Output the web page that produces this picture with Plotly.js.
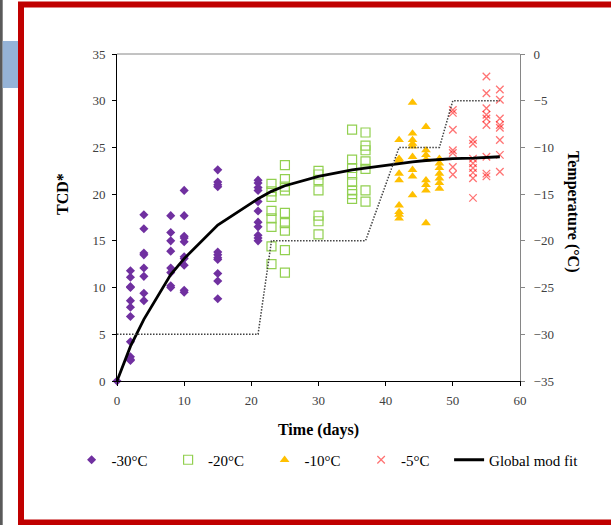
<!DOCTYPE html>
<html>
<head>
<meta charset="utf-8">
<script src="https://cdn.plot.ly/plotly-3.0.1.min.js"></script>
<style>html,body{margin:0;padding:0;background:#fff;}</style>
</head>
<body>
<div id="chart" style="width:611px;height:525px;"></div>
<script>
// Storage days at each temperature and the TCD* readings taken on each day
const days30 = [0, 2, 4, 8, 10, 15, 21];
const tcd30 = [
  [0],
  [11.8, 11.1, 10.1, 10.0, 8.6, 7.9, 6.9, 4.2, 2.6, 2.3, 2.2],
  [17.8, 16.3, 13.7, 13.5, 12.1, 11.2, 9.4, 8.6],
  [17.7, 15.9, 15.0, 13.9, 12.1, 11.6, 10.2, 10.0],
  [20.4, 17.7, 15.5, 15.3, 14.9, 13.3, 13.1, 12.4, 9.7, 9.5],
  [22.6, 21.3, 21.0, 20.8, 13.8, 13.5, 13.2, 13.0, 11.5, 10.7, 8.8],
  [21.5, 21.2, 20.7, 20.4, 19.2, 18.2, 17.0, 16.5, 15.6, 15.3, 15.0]
];

const days20 = [23, 25, 30, 35, 37];
const tcd20 = [
  [21.1, 20.3, 19.7, 18.2, 17.4, 16.5, 14.4, 12.5],
  [23.1, 21.6, 20.8, 20.4, 18.0, 16.9, 16.1, 14.0, 11.6],
  [22.5, 22.1, 21.5, 20.4, 17.7, 17.1, 15.7],
  [26.9, 23.7, 22.8, 22.1, 21.3, 20.4, 20.0, 19.5],
  [26.6, 25.2, 24.7, 23.5, 22.7, 20.4, 19.2]
];

const days10 = [42, 44, 46, 48];
const tcd10 = [
  [25.8, 23.8, 23.6, 22.2, 21.5, 18.8, 18.1, 17.8, 17.4],
  [29.8, 26.5, 25.8, 25.4, 25.1, 24.0, 22.6, 21.9, 19.9],
  [27.2, 24.7, 24.2, 23.7, 21.5, 21.0, 20.4, 16.9],
  [23.8, 23.3, 22.8, 22.2, 21.7, 21.2, 20.6]
];

const days5 = [50, 53, 55, 57];
const tcd5 = [
  [29.0, 28.7, 26.9, 24.7, 24.4, 22.9, 22.1],
  [25.8, 25.4, 23.8, 23.3, 22.8, 22.3, 21.7, 19.6],
  [32.6, 30.8, 29.2, 28.5, 28.1, 27.4, 24.0, 22.2, 21.9],
  [31.2, 30.1, 28.1, 27.4, 27.1, 25.8, 24.2, 22.4]
];

// Global model fit
const fitDays = [0, 2, 4, 8, 10, 15, 21, 23, 25, 30, 35, 37, 42, 44, 46, 48, 50, 53, 55, 57];
const fitTcd = [0, 3.7, 6.6, 11.4, 13.1, 16.7, 19.5, 20.3, 20.9, 21.9, 22.6, 22.8, 23.3, 23.45, 23.6, 23.7, 23.8, 23.85, 23.9, 24.0];

// Storage temperature profile (right axis)
const tempDays = [0, 21, 23, 37, 42, 48, 50, 57];
const tempC = [-30, -30, -20, -20, -10, -10, -5, -5];

const legendNames = ['-30°C', '-20°C', '-10°C', '-5°C', 'Global mod fit'];

function flatten(days, groups) {
  const x = [], y = [];
  days.forEach((d, i) => groups[i].forEach(v => { x.push(d); y.push(v); }));
  return {x, y};
}

const SERIF = 'Liberation Serif, Times New Roman, serif';
const W = 611, H = 525;
const M = {l: 117, r: 91, t: 54, b: 144};
const PW = W - M.l - M.r, PH = H - M.t - M.b;
const px2x = p => (p - M.l) / PW;
const py2y = p => (H - M.b - p) / PH;

const s30 = flatten(days30, tcd30);
const s20 = flatten(days20, tcd20);
const s10 = flatten(days10, tcd10);
const s5 = flatten(days5, tcd5);

const traces = [
  {x: s30.x, y: s30.y, name: legendNames[0], type: 'scatter', mode: 'markers', cliponaxis: false,
   marker: {symbol: 'diamond', size: 7, color: '#7030A0'}},
  {x: s20.x, y: s20.y, name: legendNames[1], type: 'scatter', mode: 'markers', cliponaxis: false,
   marker: {symbol: 'square-open', size: 9, color: '#92D050', line: {width: 1.2}}},
  {x: s10.x, y: s10.y, name: legendNames[2], type: 'scatter', mode: 'markers', cliponaxis: false,
   marker: {symbol: 'triangle-up', size: 8.5, color: '#FFC000'}},
  {x: s5.x, y: s5.y, name: legendNames[3], type: 'scatter', mode: 'markers', cliponaxis: false,
   legendwidth: 43,
   marker: {symbol: 'x-thin-open', size: 7.5, color: 'rgba(255,0,0,0.55)', line: {width: 1.3, color: 'rgba(255,0,0,0.55)'}}},
  {x: fitDays, y: fitTcd, name: legendNames[4], type: 'scatter', mode: 'lines', cliponaxis: false,
   legendwidth: 92,
   line: {color: '#000', width: 2.8}},
  {x: tempDays, y: tempC, name: 'Temperature', type: 'scatter', mode: 'lines', yaxis: 'y2',
   showlegend: false, line: {color: '#404040', width: 1.5, dash: '1.5px,1.5px'}}
];

const tickFont = {family: SERIF, size: 13, color: '#404040'};
const titleFont = {family: SERIF, size: 16, color: '#000', weight: 'bold'};

const layout = {
  width: W, height: H,
  margin: M,
  paper_bgcolor: '#fff', plot_bgcolor: '#fff',
  showlegend: true,
  legend: {
    orientation: 'h', x: px2x(71.6), xanchor: 'left', y: py2y(460), yanchor: 'middle',
    font: {family: SERIF, size: 15, color: '#000'}, entrywidth: 51.5,
    bgcolor: 'rgba(0,0,0,0)', borderwidth: 0
  },
  xaxis: {
    range: [0, 60], tick0: 0, dtick: 10, showgrid: false, zeroline: false,
    showline: true, linecolor: '#000', linewidth: 1,
    ticks: 'outside', ticklen: 4, tickcolor: '#000', tickfont: tickFont, ticklabelstandoff: 3,
    title: {text: 'Time (days)', font: titleFont, standoff: 17}
  },
  yaxis: {
    range: [0, 35], tick0: 0, dtick: 5, showgrid: false, zeroline: false,
    showline: true, linecolor: '#000', linewidth: 1,
    ticks: 'outside', ticklen: 4, tickcolor: '#000', tickfont: tickFont, ticklabelstandoff: 4
  },
  yaxis2: {
    overlaying: 'y', side: 'right', range: [-35, 0], tick0: 0, dtick: 5,
    showgrid: false, zeroline: false,
    showline: true, linecolor: '#868686', linewidth: 1,
    ticks: 'outside', ticklen: 4, tickcolor: '#868686', tickfont: tickFont, ticklabelstandoff: 6
  },
  annotations: [
    {text: 'TCD*', xref: 'paper', yref: 'paper', x: px2x(63), y: py2y(194),
     textangle: -90, showarrow: false, xanchor: 'center', yanchor: 'middle', font: titleFont},
    {text: 'Temperature (°C)', xref: 'paper', yref: 'paper', x: px2x(573), y: py2y(211),
     textangle: 90, showarrow: false, xanchor: 'center', yanchor: 'middle', font: titleFont}
  ],
  shapes: [
    // top edge of the plot box
    {type: 'line', xref: 'paper', yref: 'paper', x0: 0, x1: 1, y0: 1, y1: 1,
     line: {color: '#868686', width: 1}},
    // slide frame
    {type: 'rect', xref: 'paper', yref: 'paper', x0: px2x(21), x1: px2x(660), y0: py2y(4.5), y1: py2y(522.5),
     line: {color: '#C00000', width: 6}, fillcolor: 'rgba(0,0,0,0)'},
    {type: 'rect', xref: 'paper', yref: 'paper', x0: px2x(0), x1: px2x(2.7), y0: py2y(0), y1: py2y(525),
     line: {width: 0}, fillcolor: '#5a5a5a'},
    {type: 'rect', xref: 'paper', yref: 'paper', x0: px2x(2.7), x1: px2x(18), y0: py2y(41), y1: py2y(88),
     line: {width: 0}, fillcolor: '#95B3D7'}
  ]
};

Plotly.newPlot('chart', traces, layout, {displayModeBar: false, staticPlot: true});
</script>
</body>
</html>
